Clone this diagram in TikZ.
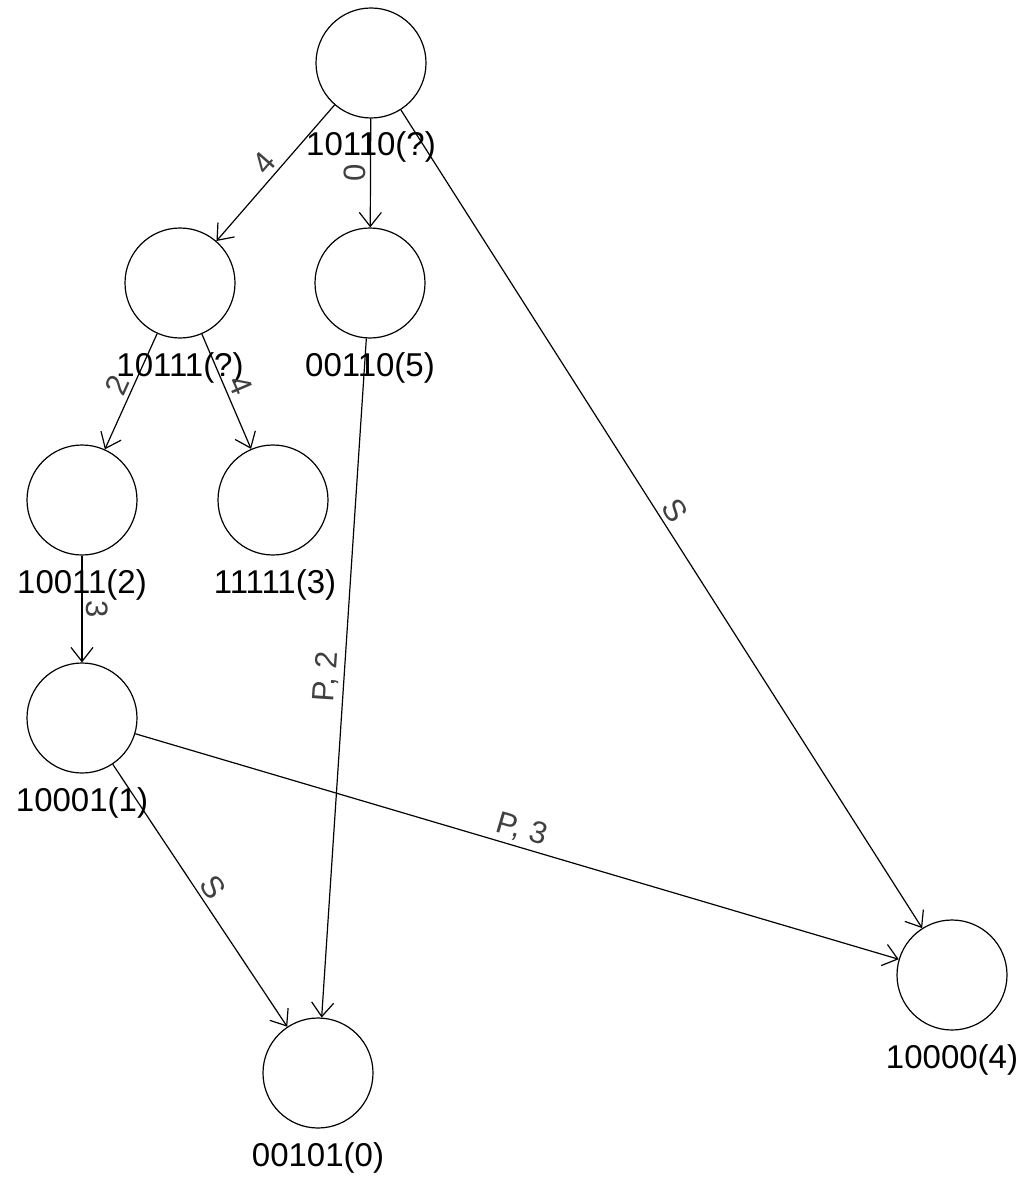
\documentclass[tikz,border=0pt]{standalone}
\usepackage{fontspec}
\setmainfont{Liberation Sans}
\usetikzlibrary{arrows.meta}
\begin{document}
\begin{tikzpicture}[x=1pt,y=-1pt,
  state/.style={circle,draw,line width=1.2pt,minimum size=110pt,inner sep=0pt},
  statename/.style={font=\fontsize{33}{40}\selectfont,anchor=base,inner sep=0pt},
  link/.style={line width=1.2pt,-{Straight Barb[length=14pt,width=22pt,line width=1.2pt]}},
  tag/.style={font=\fontsize{31}{36}\selectfont,text=black!75,sloped,above,midway,inner sep=4pt}]
  \useasboundingbox (0,0) rectangle (1028,1177);

  % states
  \node[state] (n10110) at (371,63) {};
  \node[state] (n10111) at (180,283) {};
  \node[state] (n00110) at (370,283) {};
  \node[state] (n10011) at (82,500) {};
  \node[state] (n11111) at (273,500) {};
  \node[state] (n10001) at (82,718) {};
  \node[state] (n10000) at (952,975) {};
  \node[state] (n00101) at (318,1073) {};

  % state names under the circles
  \node[statename] (l10110) at (371,156) {10110(?)};
  \node[statename] (l10111) at (180,376) {10111(?)};
  \node[statename] (l00110) at (370,376) {00110(5)};
  \node[statename] (l10011) at (82,593) {10011(2)};
  \node[statename] (l11111) at (275,593) {11111(3)};
  \node[statename] (l10001) at (82,811) {10001(1)};
  \node[statename] (l10000) at (952,1068) {10000(4)};
  \node[statename] (l00101) at (318,1166) {00101(0)};

  % transitions
  \draw[link] (n10110) -- node[tag] (e1) {4} (n10111);
  \draw[link] (n10110) -- node[tag] (e2) {0} (n00110);
  \draw[link] (n10110) -- node[tag] (e3) {S} (n10000);
  \draw[link] (n10111) -- node[tag] (e4) {2} (n10011);
  \draw[link] (n10111) -- node[tag] (e5) {4} (n11111);
  \draw[link] (n00110) -- node[tag] (e6) {P, 2} (n00101);
  \draw[link] (n10011) -- node[tag] (e7) {3} (n10001);
  \draw[link] (n10001) -- node[tag] (e8) {P, 3} (n10000);
  \draw[link] (n10001) -- node[tag] (e9) {S} (n00101);
\end{tikzpicture}
\end{document}
